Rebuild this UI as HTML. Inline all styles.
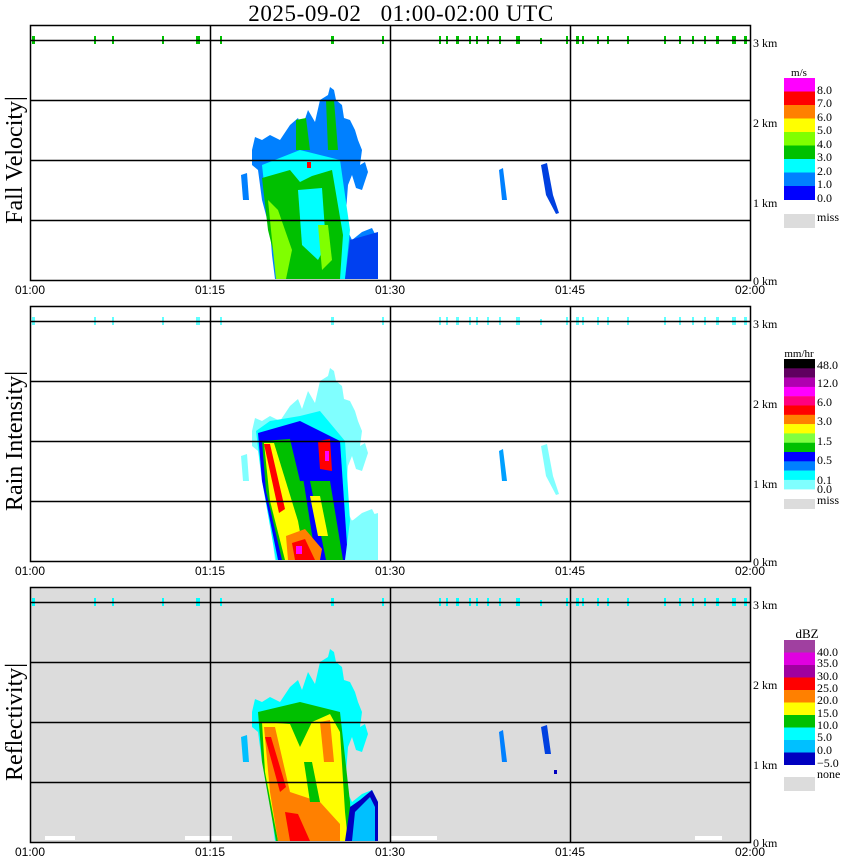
<!DOCTYPE html>
<html><head><style>
html,body{margin:0;padding:0;background:#fff;width:850px;height:868px;overflow:hidden}
svg{display:block}
.t{font-family:"Liberation Sans",sans-serif;font-size:12px;fill:#000}
.s{font-family:"Liberation Serif",serif;fill:#000}
</style></head><body>
<svg width="850" height="868" viewBox="0 0 850 868" xmlns="http://www.w3.org/2000/svg">
<defs>
<path id="S" d="M252,150 L255,137 L262,140 L270,135 L280,140 L290,125 L298,118 L302,128 L308,110 L315,122 L320,100 L328,95 L330,87 L334,90 L336,100 L342,105 L344,118 L350,120 L355,130 L358,140 L362,150 L360,165 L365,162 L368,172 L362,190 L356,188 L352,175 L348,185 L345,225 L352,240 L362,232 L372,228 L378,240 L378,279 L275,279 L272,255 L270,230 L262,200 L258,170 L252,165 Z"/>
<g id="ticks">
<rect x="32" y="36" width="3" height="8"/><rect x="94" y="36" width="2" height="8"/><rect x="112" y="36" width="2" height="8"/><rect x="162" y="36" width="2" height="8"/><rect x="196" y="36" width="4" height="8"/><rect x="220" y="36" width="2" height="8"/><rect x="331" y="36" width="3" height="8"/><rect x="382" y="36" width="2" height="8"/><rect x="439" y="36" width="2" height="8"/><rect x="446" y="36" width="2" height="8"/><rect x="456" y="36" width="3" height="8"/><rect x="469" y="36" width="2" height="8"/><rect x="476" y="36" width="2" height="8"/><rect x="487" y="36" width="2" height="8"/><rect x="499" y="36" width="2" height="8"/><rect x="516" y="36" width="4" height="8"/><rect x="540" y="38" width="2" height="6"/><rect x="566" y="36" width="2" height="8"/><rect x="576" y="36" width="3" height="8"/><rect x="582" y="36" width="2" height="8"/><rect x="597" y="36" width="2" height="8"/><rect x="607" y="36" width="2" height="8"/><rect x="627" y="36" width="2" height="8"/><rect x="664" y="36" width="2" height="8"/><rect x="679" y="36" width="2" height="8"/><rect x="692" y="36" width="2" height="8"/><rect x="704" y="36" width="2" height="8"/><rect x="716" y="36" width="3" height="8"/><rect x="732" y="36" width="4" height="8"/><rect x="744" y="36" width="3" height="8"/>
</g>
<g id="grid" fill="none" stroke="#000" stroke-width="1.5">
<rect x="30.5" y="25.5" width="720" height="255"/>
<line x1="30" y1="40.5" x2="750" y2="40.5"/>
<line x1="30" y1="100.5" x2="750" y2="100.5"/>
<line x1="30" y1="160.5" x2="750" y2="160.5"/>
<line x1="30" y1="220.5" x2="750" y2="220.5"/>
<line x1="210.5" y1="25" x2="210.5" y2="280"/>
<line x1="390.5" y1="25" x2="390.5" y2="280"/>
<line x1="570.5" y1="25" x2="570.5" y2="280"/>
</g>
<g id="lab">
<text class="t" x="30" y="294" text-anchor="middle">01:00</text>
<text class="t" x="210" y="294" text-anchor="middle">01:15</text>
<text class="t" x="390" y="294" text-anchor="middle">01:30</text>
<text class="t" x="570" y="294" text-anchor="middle">01:45</text>
<text class="t" x="750" y="294" text-anchor="middle">02:00</text>
<text class="s" font-size="12" x="753" y="47">3 km</text>
<text class="s" font-size="12" x="753" y="127">2 km</text>
<text class="s" font-size="12" x="753" y="207">1 km</text>
<text class="s" font-size="12" x="753" y="285">0 km</text>
</g>
</defs>

<text class="s" font-size="23" x="401" y="21" text-anchor="middle" letter-spacing="0.6">2025-09-02&#160;&#160;&#160;01:00-02:00 UTC</text>

<!-- Panel 1: Fall Velocity -->
<g>
<use href="#S" fill="#0080ff"/>
<path d="M262,165 L300,150 L340,160 L350,230 L345,279 L280,279 L268,220 Z" fill="#00ffff"/>
<path d="M262,178 L290,170 L300,182 L312,176 L332,170 L343,235 L340,279 L280,279 L268,230 Z" fill="#00c000"/>
<path d="M298,190 L322,188 L326,245 L318,260 L302,245 Z" fill="#00ffff"/>
<path d="M268,200 L278,210 L292,250 L286,279 L276,279 L272,240 Z" fill="#80ff00"/>
<path d="M318,225 L328,225 L332,260 L322,270 Z" fill="#80ff00"/>
<path d="M296,120 L306,118 L310,150 L296,150 Z" fill="#00c000"/>
<path d="M326,100 L334,100 L338,150 L328,150 Z" fill="#00c000"/>
<path d="M350,240 L378,232 L378,279 L345,279 Z" fill="#0040f0"/>
<rect x="307" y="162" width="4" height="6" fill="#f00"/>
<path d="M241,175 L247,173 L249,200 L243,200 Z" fill="#0080ff"/>
<path d="M499,170 L503,168 L507,200 L502,200 Z" fill="#0080ff"/>
<path d="M541,165 L547,163 L553,195 L559,213 L556,214 L546,195 Z" fill="#0040e0"/>
<g fill="#00c000"><use href="#ticks"/></g>
<use href="#grid"/><use href="#lab"/>
<text class="s" font-size="24" transform="translate(22,160) rotate(-90)" text-anchor="middle">Fall Velocity|</text>
<text class="s" font-size="11" x="799" y="76" text-anchor="middle">m/s</text>
<rect x="784" y="78" width="31" height="14" fill="#ff00ff"/>
<rect x="784" y="91.5" width="31" height="14" fill="#ff0000"/>
<rect x="784" y="105" width="31" height="14" fill="#ff8000"/>
<rect x="784" y="118.5" width="31" height="14" fill="#ffff00"/>
<rect x="784" y="132" width="31" height="14" fill="#80ff00"/>
<rect x="784" y="145.5" width="31" height="14" fill="#00c000"/>
<rect x="784" y="159" width="31" height="14" fill="#00ffff"/>
<rect x="784" y="172.5" width="31" height="14" fill="#0080ff"/>
<rect x="784" y="186" width="31" height="14" fill="#0000ff"/>
<rect x="784" y="214" width="31" height="14" fill="#dcdcdc"/>
<g class="s" font-size="12">
<text x="817" y="94">8.0</text><text x="817" y="107">7.0</text><text x="817" y="121">6.0</text><text x="817" y="134">5.0</text><text x="817" y="148">4.0</text><text x="817" y="161">3.0</text><text x="817" y="175">2.0</text><text x="817" y="188">1.0</text><text x="817" y="202">0.0</text><text x="817" y="221">miss</text>
</g>
</g>

<!-- Panel 2: Rain Intensity -->
<g transform="translate(0,281)">
<use href="#S" fill="#80ffff"/>
<path d="M256,150 L270,140 L300,135 L320,130 L345,160 L350,240 L352,279 L276,279 L262,200 Z" fill="#00ffff"/>
<path d="M258,152 L300,140 L340,160 L348,279 L278,279 L262,200 Z" fill="#0000ff"/>
<path d="M262,160 L290,158 L300,200 L330,200 L343,279 L282,279 L266,210 Z" fill="#00c000"/>
<path d="M264,162 L274,162 L298,240 L305,279 L285,279 L270,220 Z" fill="#ffff00"/>
<path d="M264,163 L270,163 L285,228 L279,232 Z" fill="#ff0000"/>
<path d="M302,190 L308,190 L326,279 L316,279 Z" fill="#0000ff"/>
<path d="M286,255 L305,248 L322,268 L320,279 L288,279 Z" fill="#ff8000"/>
<path d="M292,262 L305,258 L315,279 L295,279 Z" fill="#ff0000"/>
<rect x="296" y="265" width="6" height="8" fill="#ff00ff"/>
<path d="M318,160 L330,158 L332,190 L320,188 Z" fill="#ff0000"/>
<rect x="325" y="170" width="4" height="10" fill="#ff00ff"/>
<path d="M310,215 L320,215 L328,255 L318,255 Z" fill="#ffff00"/>
<path d="M350,240 L378,232 L378,279 L345,279 Z" fill="#80ffff"/>
<path d="M241,175 L247,173 L249,200 L243,200 Z" fill="#80ffff"/>
<path d="M499,170 L503,168 L507,200 L502,200 Z" fill="#00a0ff"/>
<path d="M541,165 L547,163 L553,195 L559,213 L556,214 L546,195 Z" fill="#80ffff"/>
<g fill="#60ffff"><use href="#ticks"/></g>
<use href="#grid"/><use href="#lab"/>
<text class="s" font-size="24" transform="translate(22,160) rotate(-90)" text-anchor="middle">Rain Intensity|</text>
</g>
<g>
<text class="s" font-size="11" x="799" y="357" text-anchor="middle">mm/hr</text>
<rect x="784" y="359" width="31" height="9.5" fill="#000000"/>
<rect x="784" y="368.3" width="31" height="9.5" fill="#600060"/>
<rect x="784" y="377.6" width="31" height="9.5" fill="#b000b0"/>
<rect x="784" y="386.9" width="31" height="9.5" fill="#ff00ff"/>
<rect x="784" y="396.2" width="31" height="9.5" fill="#ff0080"/>
<rect x="784" y="405.5" width="31" height="9.5" fill="#ff0000"/>
<rect x="784" y="414.8" width="31" height="9.5" fill="#ff8000"/>
<rect x="784" y="424.1" width="31" height="9.5" fill="#ffff00"/>
<rect x="784" y="433.4" width="31" height="9.5" fill="#80ff40"/>
<rect x="784" y="442.7" width="31" height="9.5" fill="#00c000"/>
<rect x="784" y="452" width="31" height="9.5" fill="#0000ff"/>
<rect x="784" y="461.3" width="31" height="9.5" fill="#0080ff"/>
<rect x="784" y="470.6" width="31" height="9.5" fill="#00ffff"/>
<rect x="784" y="479.9" width="31" height="9.5" fill="#80ffff"/>
<rect x="784" y="499" width="31" height="10" fill="#dcdcdc"/>
<g class="s" font-size="12">
<text x="817" y="369">48.0</text><text x="817" y="387">12.0</text><text x="817" y="406">6.0</text><text x="817" y="425">3.0</text><text x="817" y="445">1.5</text><text x="817" y="464">0.5</text><text x="817" y="484">0.1</text><text x="817" y="493">0.0</text><text x="817" y="504">miss</text>
</g>
</g>

<!-- Panel 3: Reflectivity -->
<g transform="translate(0,562)">
<rect x="30" y="25" width="720" height="255" fill="#dcdcdc"/>
<g fill="#fff"><rect x="45" y="274" width="30" height="4"/><rect x="185" y="274" width="47" height="4"/><rect x="390" y="274" width="47" height="4"/><rect x="695" y="274" width="27" height="4"/></g>
<use href="#S" fill="#00ffff"/>
<path d="M258,150 L300,140 L340,150 L350,240 L352,279 L276,279 L262,200 Z" fill="#00c000"/>
<path d="M262,160 L290,162 L300,185 L312,160 L330,152 L340,170 L345,250 L348,279 L278,279 L265,210 Z" fill="#ffff00"/>
<path d="M264,165 L275,165 L290,230 L320,240 L340,262 L340,279 L278,279 L270,230 Z" fill="#ff8000"/>
<path d="M265,175 L271,175 L286,225 L280,230 Z" fill="#ff0000"/>
<path d="M285,250 L298,252 L310,279 L290,279 Z" fill="#ff0000"/>
<path d="M320,160 L330,158 L334,200 L324,200 Z" fill="#ff8000"/>
<path d="M304,200 L312,200 L320,240 L310,240 Z" fill="#00c000"/>
<path d="M350,245 L360,238 L372,228 L378,240 L378,279 L345,279 Z" fill="#0000c0"/>
<path d="M355,250 L370,235 L375,245 L375,279 L352,279 Z" fill="#00c0ff"/>
<path d="M241,175 L247,173 L249,200 L243,200 Z" fill="#00c0ff"/>
<path d="M499,170 L503,168 L507,200 L502,200 Z" fill="#0080ff"/>
<path d="M541,165 L547,163 L551,192 L545,192 Z" fill="#0040e0"/>
<rect x="554" y="208" width="3" height="4" fill="#0000c0"/>
<g fill="#00ffff"><use href="#ticks"/></g>
<use href="#grid"/><use href="#lab"/>
<text class="s" font-size="24" transform="translate(22,160) rotate(-90)" text-anchor="middle">Reflectivity|</text>
</g>
<g>
<text class="s" font-size="13" x="807" y="638" text-anchor="middle">dBZ</text>
<rect x="784" y="640" width="31" height="12.6" fill="#a040a0"/>
<rect x="784" y="652.5" width="31" height="12.6" fill="#e000e0"/>
<rect x="784" y="665" width="31" height="12.6" fill="#a000a0"/>
<rect x="784" y="677.5" width="31" height="12.6" fill="#ff0000"/>
<rect x="784" y="690" width="31" height="12.6" fill="#ff8000"/>
<rect x="784" y="702.5" width="31" height="12.6" fill="#ffff00"/>
<rect x="784" y="715" width="31" height="12.6" fill="#00c000"/>
<rect x="784" y="727.5" width="31" height="12.6" fill="#00ffff"/>
<rect x="784" y="740" width="31" height="12.6" fill="#00c0ff"/>
<rect x="784" y="752.5" width="31" height="12.5" fill="#0000c0"/>
<rect x="784" y="777" width="31" height="14" fill="#dcdcdc"/>
<g class="s" font-size="12">
<text x="817" y="656">40.0</text><text x="817" y="667">35.0</text><text x="817" y="680">30.0</text><text x="817" y="692">25.0</text><text x="817" y="704">20.0</text><text x="817" y="717">15.0</text><text x="817" y="729">10.0</text><text x="817" y="741">5.0</text><text x="817" y="754">0.0</text><text x="817" y="767">−5.0</text><text x="817" y="778">none</text>
</g>
</g>
</svg>
</body></html>
